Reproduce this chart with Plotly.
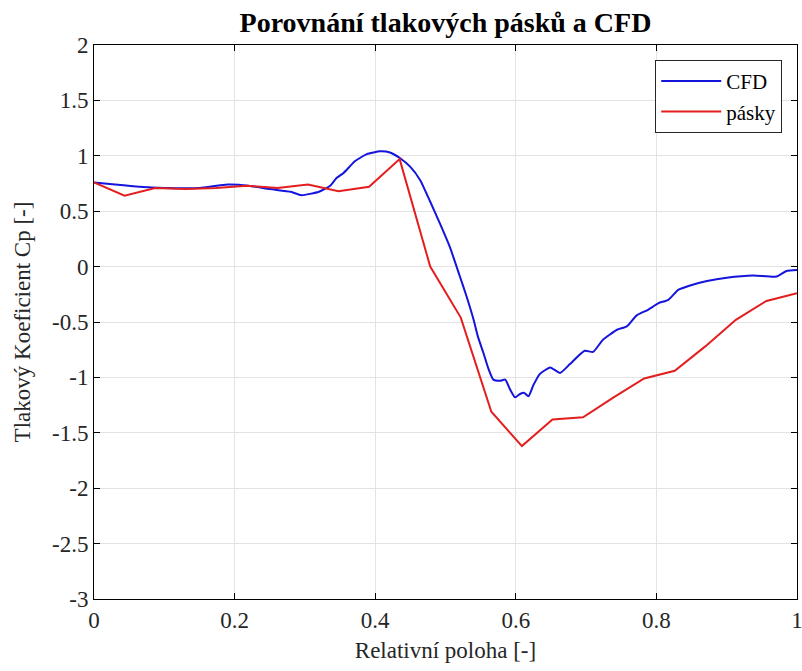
import plotly.graph_objects as go

# CFD series
cfd_x = [0.00, 0.03, 0.065, 0.10, 0.15, 0.19, 0.22, 0.25, 0.28, 0.295, 0.32, 0.336,
         0.345, 0.355, 0.371, 0.388, 0.407, 0.421, 0.435, 0.45, 0.464, 0.478, 0.492,
         0.506, 0.52, 0.53, 0.54, 0.546, 0.554, 0.561, 0.568, 0.578, 0.585, 0.592,
         0.599, 0.606, 0.612, 0.618, 0.625, 0.634, 0.649, 0.663, 0.677, 0.698, 0.71,
         0.724, 0.744, 0.758, 0.772, 0.788, 0.803, 0.817, 0.831, 0.848, 0.872, 0.90,
         0.938, 0.971, 0.985, 1.0]
cfd_y = [0.76, 0.74, 0.72, 0.71, 0.71, 0.74, 0.73, 0.70, 0.675, 0.645, 0.675, 0.73,
         0.80, 0.845, 0.95, 1.015, 1.04, 1.03, 0.98, 0.90, 0.78, 0.59, 0.39,
         0.18, -0.08, -0.27, -0.48, -0.63, -0.78, -0.92, -1.02, -1.03, -1.02, -1.11,
         -1.18, -1.15, -1.14, -1.17, -1.07, -0.97, -0.91, -0.96, -0.88, -0.76, -0.77,
         -0.66, -0.57, -0.54, -0.44, -0.39, -0.33, -0.30, -0.21, -0.17, -0.13, -0.10,
         -0.08, -0.09, -0.04, -0.03]

# Pressure strips (pásky), 24 taps equally spaced
pasky_x = [i / 23 for i in range(24)]
pasky_y = [0.76, 0.64, 0.71, 0.70, 0.71, 0.73, 0.71, 0.74, 0.68, 0.72, 0.97, 0.00,
           -0.46, -1.31, -1.62, -1.38, -1.36, -1.18, -1.01, -0.94, -0.72, -0.48,
           -0.31, -0.24]

x_ticks = [0, 0.2, 0.4, 0.6, 0.8, 1]
y_ticks = [2, 1.5, 1, 0.5, 0, -0.5, -1, -1.5, -2, -2.5, -3]

font = "Liberation Serif, Times New Roman, serif"
txt = "#262626"

fig = go.Figure()
fig.add_trace(go.Scatter(x=cfd_x, y=cfd_y, mode="lines", name="CFD",
                         line=dict(color="rgb(20,20,220)", width=2, shape="spline", smoothing=0.5)))
fig.add_trace(go.Scatter(x=pasky_x, y=pasky_y, mode="lines", name="pásky",
                         line=dict(color="rgb(228,30,30)", width=2)))

axis_common = dict(showline=True, linecolor="black", linewidth=1, mirror="ticks",
                   ticks="inside", ticklen=6, tickcolor="black",
                   showgrid=True, gridcolor="#e3e3e3", gridwidth=1, zeroline=False,
                   automargin=False, ticklabeloverflow="allow",
                   tickfont=dict(family=font, size=23, color=txt))

fig.update_xaxes(range=[0, 1], tickvals=x_ticks, ticktext=[str(t) for t in x_ticks],
                 title=dict(text="Relativní poloha [-]", font=dict(family=font, size=23, color=txt), standoff=10),
                 **axis_common)
fig.update_yaxes(range=[-3, 2], tickvals=y_ticks, ticktext=[str(t) for t in y_ticks],
                 title=dict(text="Tlakový Koeficient Cp [-]", font=dict(family=font, size=23, color=txt), standoff=14),
                 **axis_common)

fig.update_layout(
    width=802, height=671,
    margin=dict(l=94, r=5, t=45, b=72),
    paper_bgcolor="white", plot_bgcolor="white",
    title=dict(text="<b>Porovnání tlakových pásků a CFD</b>", x=(94 + 703 / 2) / 802, xanchor="center",
               y=1 - 22 / 671, yanchor="middle", font=dict(family=font, size=28, color="black")),
    legend=dict(x=0.979, y=0.973, xanchor="right", yanchor="top", bgcolor="white",
                bordercolor="#262626", borderwidth=1, itemwidth=60,
                font=dict(family=font, size=21, color="black"),
                tracegroupgap=0),
    showlegend=True,
)

fig.write_html("out.html")
